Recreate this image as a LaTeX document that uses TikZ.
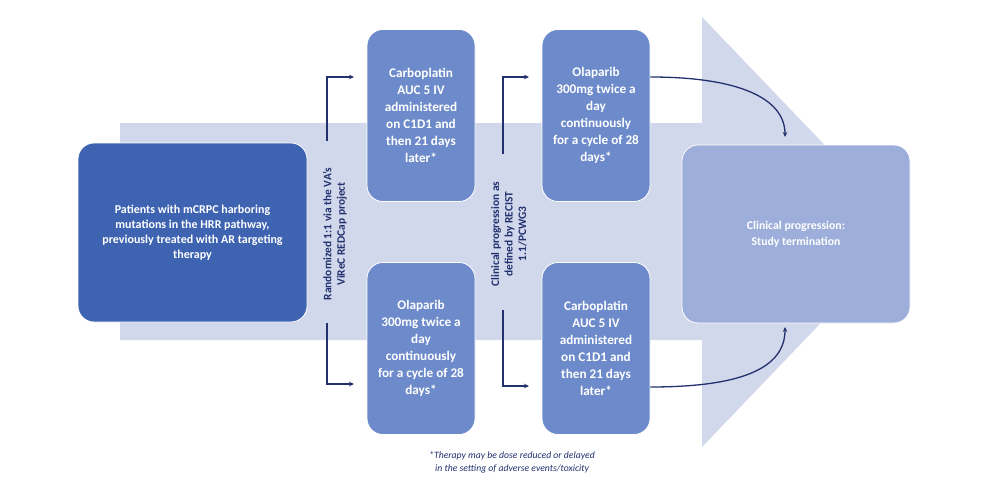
\documentclass[tikz,border=0pt]{standalone}
\usepackage{fontspec}
\setmainfont{Carlito}
\usetikzlibrary{arrows.meta}
\definecolor{bgarrow}{HTML}{D2D8EC}
\definecolor{darkbox}{HTML}{3D63B1}
\definecolor{midbox}{HTML}{6D8BCA}
\definecolor{endbox}{HTML}{9DAEDA}
\definecolor{navy}{HTML}{22306E}
\tikzset{
  box/.style={rounded corners=16pt, draw=white, line width=0.8pt, align=center, text=white, font=\bfseries},
  midb/.style={box, fill=midbox, minimum width=108pt, minimum height=172pt, font=\bfseries\fontsize{13.2}{17}\selectfont},
  conn/.style={draw=navy, line width=1.3pt, -{Stealth[length=5pt,width=4.5pt]}},
  rlabel/.style={rotate=90, align=center, text=navy, font=\bfseries\fontsize{11.4}{13.5}\selectfont}
}
\begin{document}
\begin{tikzpicture}[x=1pt,y=-1pt]
\useasboundingbox (0,0) rectangle (983,487);
\fill[white] (0,0) rectangle (983,487);
% background arrow
\fill[bgarrow] (120,123) -- (702,123) -- (702,17) -- (908,232) -- (702,447) -- (702,340) -- (120,340) -- cycle;
% boxes
\node[box, fill=darkbox, minimum width=229pt, minimum height=179pt, font=\bfseries\fontsize{12}{15}\selectfont] (pat) at (192.5,232.5)
  {Patients with mCRPC harboring\\mutations in the HRR pathway,\\previously treated with AR targeting\\therapy};
\node[midb] (c1) at (421,115.5) {Carboplatin\\AUC 5 IV\\administered\\on C1D1 and\\then 21 days\\later*};
\node[midb] (o1) at (421,348.5) {Olaparib\\300mg twice a\\day\\continuously\\for a cycle of 28\\days*};
\node[midb] (o2) at (596,115.5) {Olaparib\\300mg twice a\\day\\continuously\\for a cycle of 28\\days*};
\node[midb] (c2) at (596,348.5) {Carboplatin\\AUC 5 IV\\administered\\on C1D1 and\\then 21 days\\later*};
\node[box, fill=endbox, minimum width=228pt, minimum height=178pt, font=\bfseries\fontsize{11.8}{16}\selectfont] (end) at (796,234)
  {Clinical progression:\\Study termination};
% rotated labels
\node[rlabel] (rand) at (335,234) {Randomized 1:1 via the VA's\\ViReC REDCap project};
\node[rlabel] (prog) at (509,234) {Clinical progression as\\defined by RECIST\\1.1/PCWG3};
% connectors
\coordinate (r1) at (327,141);
\coordinate (r2) at (327,323);
\coordinate (r1e) at (354,77);
\coordinate (r2e) at (354,384);
\coordinate (p1) at (503,154);
\coordinate (p2) at (503,310);
\coordinate (p1e) at (529,77);
\coordinate (p2e) at (529,386);
\draw[conn] (r1) |- (r1e);
\draw[conn] (r2) |- (r2e);
\draw[conn] (p1) |- (p1e);
\draw[conn] (p2) |- (p2e);
\draw[conn] (o2.east |- 0,77) .. controls (738,77) and (785,98) .. (785,137);
\draw[conn] (c2.east |- 0,387) .. controls (742,387) and (785,368) .. (785,327);
% footnote
\node[align=center, text=navy, font=\itshape\fontsize{9.7}{13}\selectfont] (note) at (512,462)
  {*Therapy may be dose reduced or delayed\\in the setting of adverse events/toxicity};
\end{tikzpicture}
\end{document}
